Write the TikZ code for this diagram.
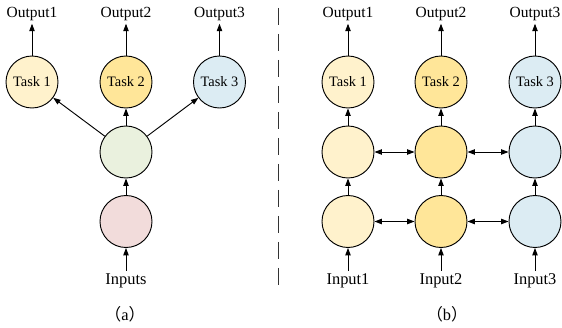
\documentclass[tikz,border=0pt]{standalone}
\usepackage{fontspec}
\setmainfont{Liberation Serif}
\newfontfamily\cjk{Noto Sans CJK SC}
\usepackage{xcolor}
\usetikzlibrary{arrows.meta, positioning}

\definecolor{taskA}{HTML}{FFF2CC}
\definecolor{taskB}{HTML}{FFE699}
\definecolor{taskC}{HTML}{DCECF3}
\definecolor{shared}{HTML}{EAF1DE}
\definecolor{inlayer}{HTML}{F2DCDB}

\tikzset{
    unit/.style={draw, circle, line width=0.7pt, minimum size=39pt, inner sep=0pt, font=\rmfamily\fontsize{10.8}{12}\selectfont},
    outlabel/.style={inner sep=2pt, font=\rmfamily\fontsize{11.6}{13}\selectfont},
    inlabel/.style={inner sep=2pt, font=\rmfamily\fontsize{12.3}{14}\selectfont},
    arr/.style={-{Triangle[length=5.5pt, width=4pt]}, line width=0.7pt},
    darr/.style={{Triangle[length=5.5pt, width=4pt]}-{Triangle[length=5.5pt, width=4pt]}, line width=0.7pt},
}

\begin{document}
\begin{tikzpicture}[x=0.75pt, y=-0.75pt]
    \useasboundingbox (0,0) rectangle (562,328);

    % (a) hard parameter sharing
    \node[unit, fill=taskA] (a1) at (32,82) {Task 1};
    \node[unit, fill=taskB] (a2) at (126,82) {Task 2};
    \node[unit, fill=taskC] (a3) at (219.5,82) {Task 3};
    \node[unit, fill=shared] (ah) at (126,152) {};
    \node[unit, fill=inlayer] (ai) at (126,221.5) {};
    \node[outlabel] (ao1) at (32,14) {Output1};
    \node[outlabel] (ao2) at (126,14) {Output2};
    \node[outlabel] (ao3) at (219.5,14) {Output3};
    \node[inlabel] (ain) at (126,281) {Inputs};
    \node[inlabel] (acap) at (125,314) {{\cjk （}a{\cjk ）}};
    \draw[arr] (ain) -- (ai);
    \draw[arr] (ai) -- (ah);
    \draw[arr] (ah) -- (a1);
    \draw[arr] (ah) -- (a2);
    \draw[arr] (ah) -- (a3);
    \draw[arr] (a1) -- (ao1);
    \draw[arr] (a2) -- (ao2);
    \draw[arr] (a3) -- (ao3);

    \coordinate (top) at (278.5,8);
    \coordinate (bot) at (278.5,286);
    \draw[black!80, line width=0.8pt, dash pattern=on 12.75pt off 6.75pt] (top) -- (bot);

    % (b) soft parameter sharing
    \node[unit, fill=taskA] (b1) at (348,82) {Task 1};
    \node[unit, fill=taskB] (b2) at (441,82) {Task 2};
    \node[unit, fill=taskC] (b3) at (535,82) {Task 3};
    \node[unit, fill=taskA] (m1) at (348,152) {};
    \node[unit, fill=taskB] (m2) at (441,152) {};
    \node[unit, fill=taskC] (m3) at (535,152) {};
    \node[unit, fill=taskA] (l1) at (348,221.5) {};
    \node[unit, fill=taskB] (l2) at (441,221.5) {};
    \node[unit, fill=taskC] (l3) at (535,221.5) {};
    \node[outlabel] (bo1) at (348,14) {Output1};
    \node[outlabel] (bo2) at (441,14) {Output2};
    \node[outlabel] (bo3) at (535,14) {Output3};
    \node[inlabel] (bi1) at (348,281) {Input1};
    \node[inlabel] (bi2) at (441,281) {Input2};
    \node[inlabel] (bi3) at (535,281) {Input3};
    \node[inlabel] (bcap) at (447,314) {{\cjk （}b{\cjk ）}};
    \foreach \i in {1,2,3} {
        \draw[arr] (bi\i) -- (l\i);
        \draw[arr] (l\i) -- (m\i);
        \draw[arr] (m\i) -- (b\i);
        \draw[arr] (b\i) -- (bo\i);
    }
    \draw[darr] (m1) -- (m2);
    \draw[darr] (m2) -- (m3);
    \draw[darr] (l1) -- (l2);
    \draw[darr] (l2) -- (l3);
\end{tikzpicture}
\end{document}
